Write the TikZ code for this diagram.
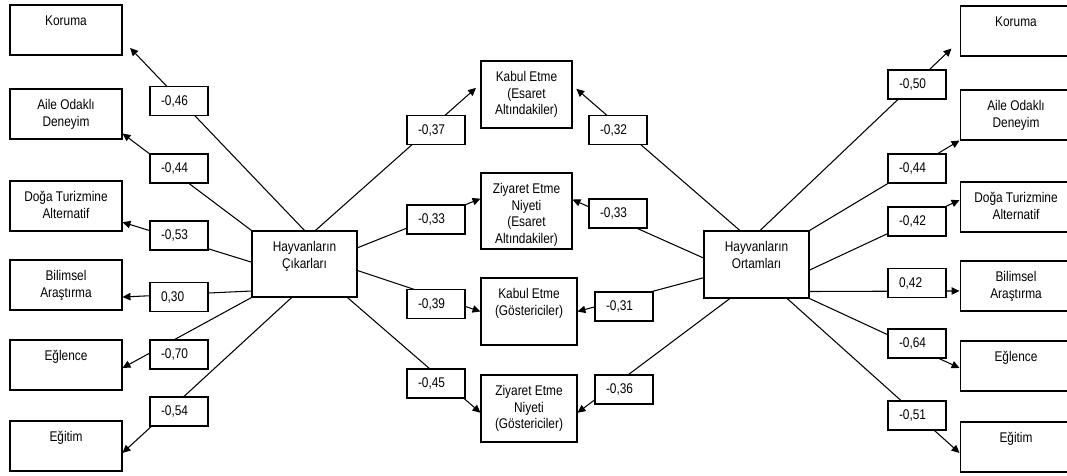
\documentclass[tikz,border=0pt]{standalone}
\usepackage{fontspec}
\setmainfont{Liberation Sans}[FakeStretch=0.845]
\usetikzlibrary{arrows.meta}

\begin{document}
\begin{tikzpicture}[x=0.02cm,y=-0.02cm,font=\fontsize{8}{9.6}\selectfont,line width=0.6pt,
  outbox/.style={draw,inner sep=0pt},
  coef/.style={draw,fill=white,align=left,text width=0.72cm,inner xsep=0.22cm,inner ysep=0pt,minimum height=0.58cm},
  arr/.style={-{Triangle[length=4.5pt,width=4.2pt]}}]
\newcommand{\boxtext}[3]{\parbox[c][#1][t]{#2}{\centering\rule{0pt}{11.5pt}#3}}
\useasboundingbox (0,0) rectangle (1067,476);
\clip (0,0) rectangle (1067,476);

\foreach \y/\nm/\txt in {30/kor/Koruma,114/aile/{Aile Odaklı\\Deneyim},206/doga/{Doğa Turizmine\\Alternatif},
    285/bil/{Bilimsel\\Araştırma},365/egl/Eğlence,446/egt/Eğitim}{
  \node[outbox] (l\nm) at (66,\y) {\boxtext{1cm}{2.24cm}{\txt}};
  \node[outbox] (r\nm) at (1016,\y+1) {\boxtext{1cm}{2.24cm}{\txt}};
}

\node[outbox] (ls) at (304.5,264) {\boxtext{1.32cm}{2.1cm}{Hayvanların\\Çıkarları}};
\node[outbox] (rs) at (756.5,264.5) {\boxtext{1.34cm}{2.1cm}{Hayvanların\\Ortamları}};

\node[outbox] (kabe) at (526.5,94.5) {\boxtext{1.34cm}{1.82cm}{Kabul Etme\\(Esaret\\Altındakiler)}};
\node[outbox] (ziye) at (526.5,211) {\boxtext{1.52cm}{1.82cm}{Ziyaret Etme\\Niyeti\\(Esaret\\Altındakiler)}};
\node[outbox] (kabg) at (529,311.5) {\boxtext{1.34cm}{1.92cm}{Kabul Etme\\(Göstericiler)}};
\node[outbox] (ziyg) at (529,408.5) {\boxtext{1.34cm}{1.92cm}{Ziyaret Etme\\Niyeti\\(Göstericiler)}};

\draw[arr,shorten >=0.22cm] (ls.north) -- (lkor.350);
\draw[arr] (ls.north west) -- (laile.341);
\draw[arr] (ls.178) -- (ldoga.344);
\draw[arr] (ls.207) -- (lbil.348);
\draw[arr] (ls.south west) -- (legl.357);
\draw[arr] (ls.249) -- (legt.353);

\draw[arr,shorten >=0.12cm] (ls.72) -- (kabe.167);
\draw[arr] (ls.17) -- (ziye.165);
\draw[arr] (ls.353) -- (kabg.west);
\draw[arr] (ls.322) -- (ziyg.185);

\draw[arr,shorten >=0.1cm] (rs.116) -- (kabe.11);
\draw[arr] (rs.173) -- (ziye.14);
\draw[arr] (rs.194) -- (kabg.east);
\draw[arr] (rs.232) -- (ziyg.355);

\draw[arr,shorten >=0.22cm] (rs.84) -- (rkor.190);
\draw[arr] (rs.north east) -- (raile.south west);
\draw[arr] (rs.354) -- (rdoga.173);
\draw[arr] (rs.333) -- (rbil.185);
\draw[arr] (rs.south east) -- (regl.182);
\draw[arr] (rs.312) -- (regt.186);

\node[coef] (cl1) at (179,101) {-0,46};
\node[coef] (cl2) at (179,168.5) {-0,44};
\node[coef] (cl3) at (179,235.5) {-0,53};
\node[coef] (cl4) at (179,297) {0,30};
\node[coef] (cl5) at (179,354.5) {-0,70};
\node[coef] (cl6) at (179,411.5) {-0,54};

\node[coef] (cm1) at (436,130) {-0,37};
\node[coef] (cm2) at (436,219.5) {-0,33};
\node[coef] (cm3) at (436,304) {-0,39};
\node[coef] (cm4) at (436,383.5) {-0,45};
\node[coef] (cm5) at (618,130) {-0,32};
\node[coef] (cm6) at (618,213.5) {-0,33};
\node[coef] (cm7) at (624,306.5) {-0,31};
\node[coef] (cm8) at (624,389.5) {-0,36};

\node[coef] (cr1) at (917,84.5) {-0,50};
\node[coef] (cr2) at (917,168.5) {-0,44};
\node[coef] (cr3) at (917,221.5) {-0,42};
\node[coef] (cr4) at (917,283) {0,42};
\node[coef] (cr5) at (917,343.5) {-0,64};
\node[coef] (cr6) at (917,415.5) {-0,51};
\end{tikzpicture}
\end{document}
